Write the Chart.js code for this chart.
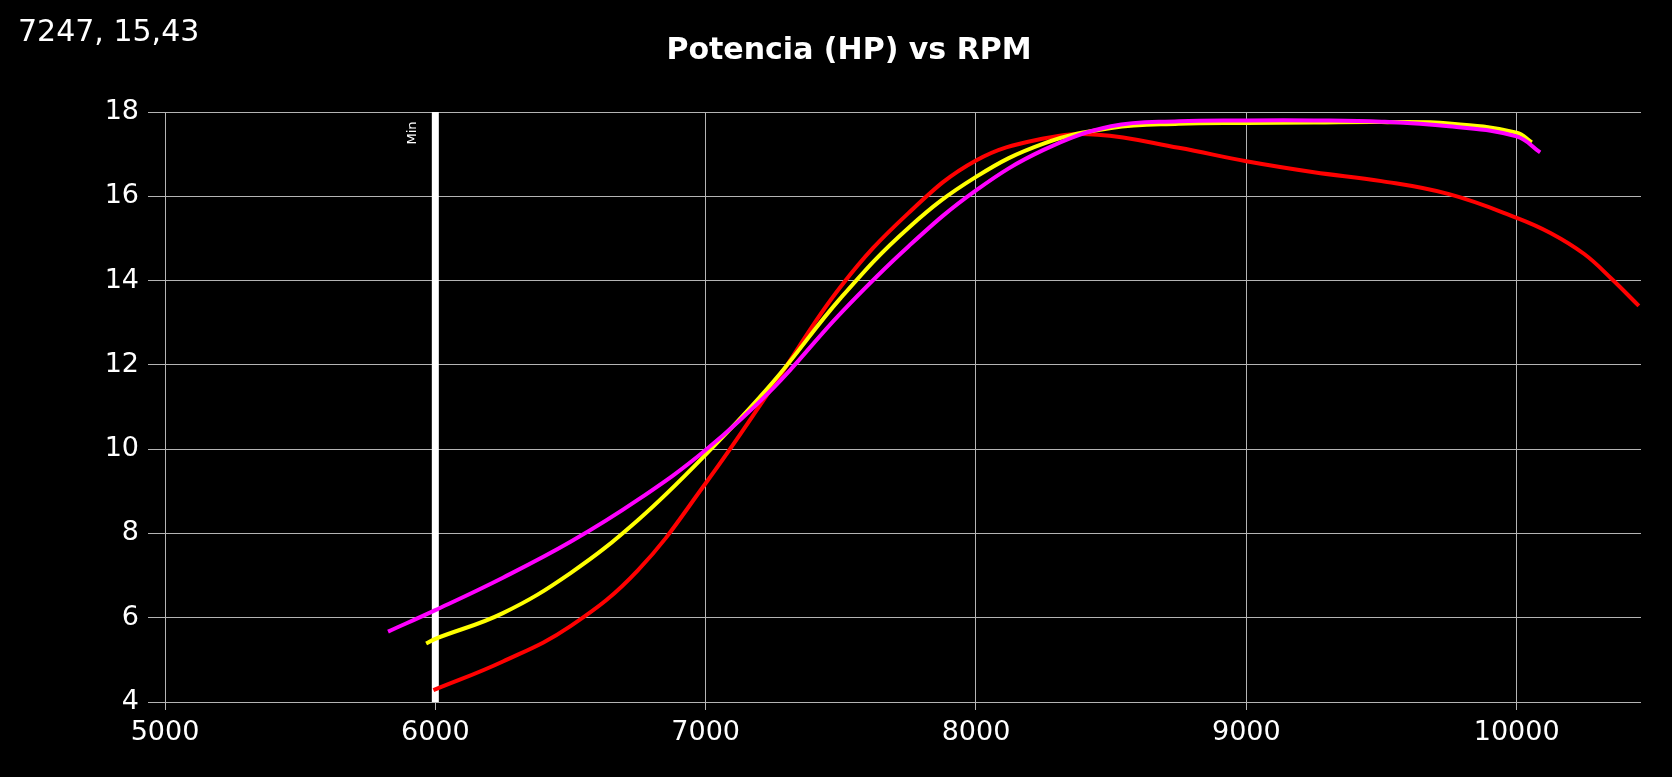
<!DOCTYPE html>
<html>
<head>
<meta charset="utf-8">
<title>Potencia (HP) vs RPM</title>
<script src="https://cdn.jsdelivr.net/npm/chart.js@4.4.1/dist/chart.umd.min.js"></script>
<style>
    html, body { margin: 0; padding: 0; background: #000; overflow: hidden; }
    canvas { display: block; }
</style>
</head>
<body>
<canvas id="power-chart" width="1672" height="777"></canvas>
<script>
// Dyno runs: engine speed (rpm) and power (HP) for each run
const rpmRed = [5993, 6250, 6500, 6750, 7000, 7250, 7500, 7750, 8000, 8250, 8450, 8750, 9000, 9250, 9500, 9750, 10000, 10125, 10250, 10350, 10452];
const hpRed = [4.28, 4.96, 5.8, 7.13, 9.19, 11.5, 13.86, 15.6, 16.85, 17.37, 17.46, 17.15, 16.83, 16.57, 16.36, 16.05, 15.49, 15.13, 14.63, 14.05, 13.4];

const rpmYellow = [5966, 6000, 6250, 6500, 6750, 7000, 7250, 7500, 7750, 8000, 8250, 8500, 8750, 9000, 9250, 9500, 9750, 10000, 10056];
const hpYellow = [5.39, 5.5, 6.11, 7.06, 8.32, 9.87, 11.6, 13.59, 15.25, 16.46, 17.25, 17.62, 17.72, 17.74, 17.75, 17.76, 17.73, 17.51, 17.28];

const rpmMagenta = [5825, 6000, 6250, 6500, 6750, 7000, 7250, 7500, 7750, 8000, 8250, 8500, 8750, 9000, 9250, 9500, 9750, 10000, 10087];
const hpMagenta = [5.67, 6.18, 6.95, 7.8, 8.8, 9.98, 11.45, 13.23, 14.81, 16.14, 17.1, 17.66, 17.78, 17.8, 17.8, 17.77, 17.66, 17.42, 17.04];

// Minimum rpm marker and axis ranges
const minRpm = 6000;
const rpmRange = [5000, 10460];
const hpRange = [4, 18];
const rpmTicks = [5000, 6000, 7000, 8000, 9000, 10000];
const hpTicks = [4, 6, 8, 10, 12, 14, 16, 18];

// Texts
const chartTitle = "Potencia (HP) vs RPM";
const cursorReadout = "7247, 15,43";
const minLabel = "Min";

// Turn two parallel arrays into {x, y} points
function toPoints(xs, ys) {
    return xs.map((x, i) => ({ x: x, y: ys[i] }));
}

document.addEventListener("DOMContentLoaded", function() {
    const canvas = document.getElementById("power-chart");
    const fontFamily = "'DejaVu Sans', sans-serif";
    const gridColor = "#b4b4b4";

    // Draws the title, the cursor readout and the "Min" tag next to the marker
    const headerText = {
        id: "headerText",
        afterDraw(chart) {
            const ctx = chart.ctx;
            const xScale = chart.scales.x;
            ctx.save();
            ctx.fillStyle = "#ffffff";
            ctx.textBaseline = "alphabetic";

            ctx.font = "30px " + fontFamily;
            ctx.textAlign = "left";
            ctx.fillText(cursorReadout, 18, 41);

            ctx.font = "bold 30px " + fontFamily;
            ctx.textAlign = "center";
            ctx.fillText(chartTitle, 849, 59);

            // rotated label to the left of the minimum line
            const mx = xScale.getPixelForValue(minRpm) - 23;
            const my = chart.chartArea.top + 21;
            ctx.translate(mx, my);
            ctx.rotate(-Math.PI / 2);
            ctx.font = "13px " + fontFamily;
            ctx.textAlign = "center";
            ctx.textBaseline = "middle";
            ctx.fillText(minLabel, 0, 0);
            ctx.restore();
        }
    };

    const lineStyle = {
        borderWidth: 4,
        pointRadius: 0,
        fill: false,
        tension: 0.4
    };

    new Chart(canvas, {
        type: "line",
        data: {
            datasets: [
                Object.assign({ label: "Run 3", data: toPoints(rpmMagenta, hpMagenta), borderColor: "#ff00ff" }, lineStyle),
                Object.assign({ label: "Run 2", data: toPoints(rpmYellow, hpYellow), borderColor: "#ffff00" }, lineStyle),
                Object.assign({ label: "Run 1", data: toPoints(rpmRed, hpRed), borderColor: "#ff0000" }, lineStyle),
                {
                    label: minLabel,
                    data: toPoints([minRpm, minRpm], hpRange),
                    borderColor: "#ffffff",
                    borderWidth: 7,
                    pointRadius: 0,
                    borderCapStyle: "butt"
                }
            ]
        },
        options: {
            responsive: false,
            animation: false,
            layout: {
                padding: { top: 112, right: 31, left: 0, bottom: 0 }
            },
            plugins: {
                legend: { display: false },
                title: { display: false },
                tooltip: { enabled: false }
            },
            scales: {
                x: {
                    type: "linear",
                    min: rpmRange[0],
                    max: rpmRange[1],
                    border: { display: false },
                    grid: { color: gridColor, lineWidth: 1, tickLength: 8 },
                    ticks: {
                        color: "#ffffff",
                        padding: 7,
                        maxRotation: 0,
                        autoSkip: false,
                        font: { family: fontFamily, size: 27 },
                        callback: (value) => String(value)
                    },
                    afterBuildTicks(scale) {
                        scale.ticks = rpmTicks.map((v) => ({ value: v }));
                    },
                    afterFit(scale) { scale.height = 75; }
                },
                y: {
                    min: hpRange[0],
                    max: hpRange[1],
                    border: { display: false },
                    grid: { color: gridColor, lineWidth: 1, tickLength: 17 },
                    ticks: {
                        color: "#ffffff",
                        padding: 9,
                        autoSkip: false,
                        font: { family: fontFamily, size: 27 }
                    },
                    afterBuildTicks(scale) {
                        scale.ticks = hpTicks.map((v) => ({ value: v }));
                    },
                    afterFit(scale) { scale.width = 165; }
                }
            }
        },
        plugins: [headerText]
    });
});
</script>
</body>
</html>
